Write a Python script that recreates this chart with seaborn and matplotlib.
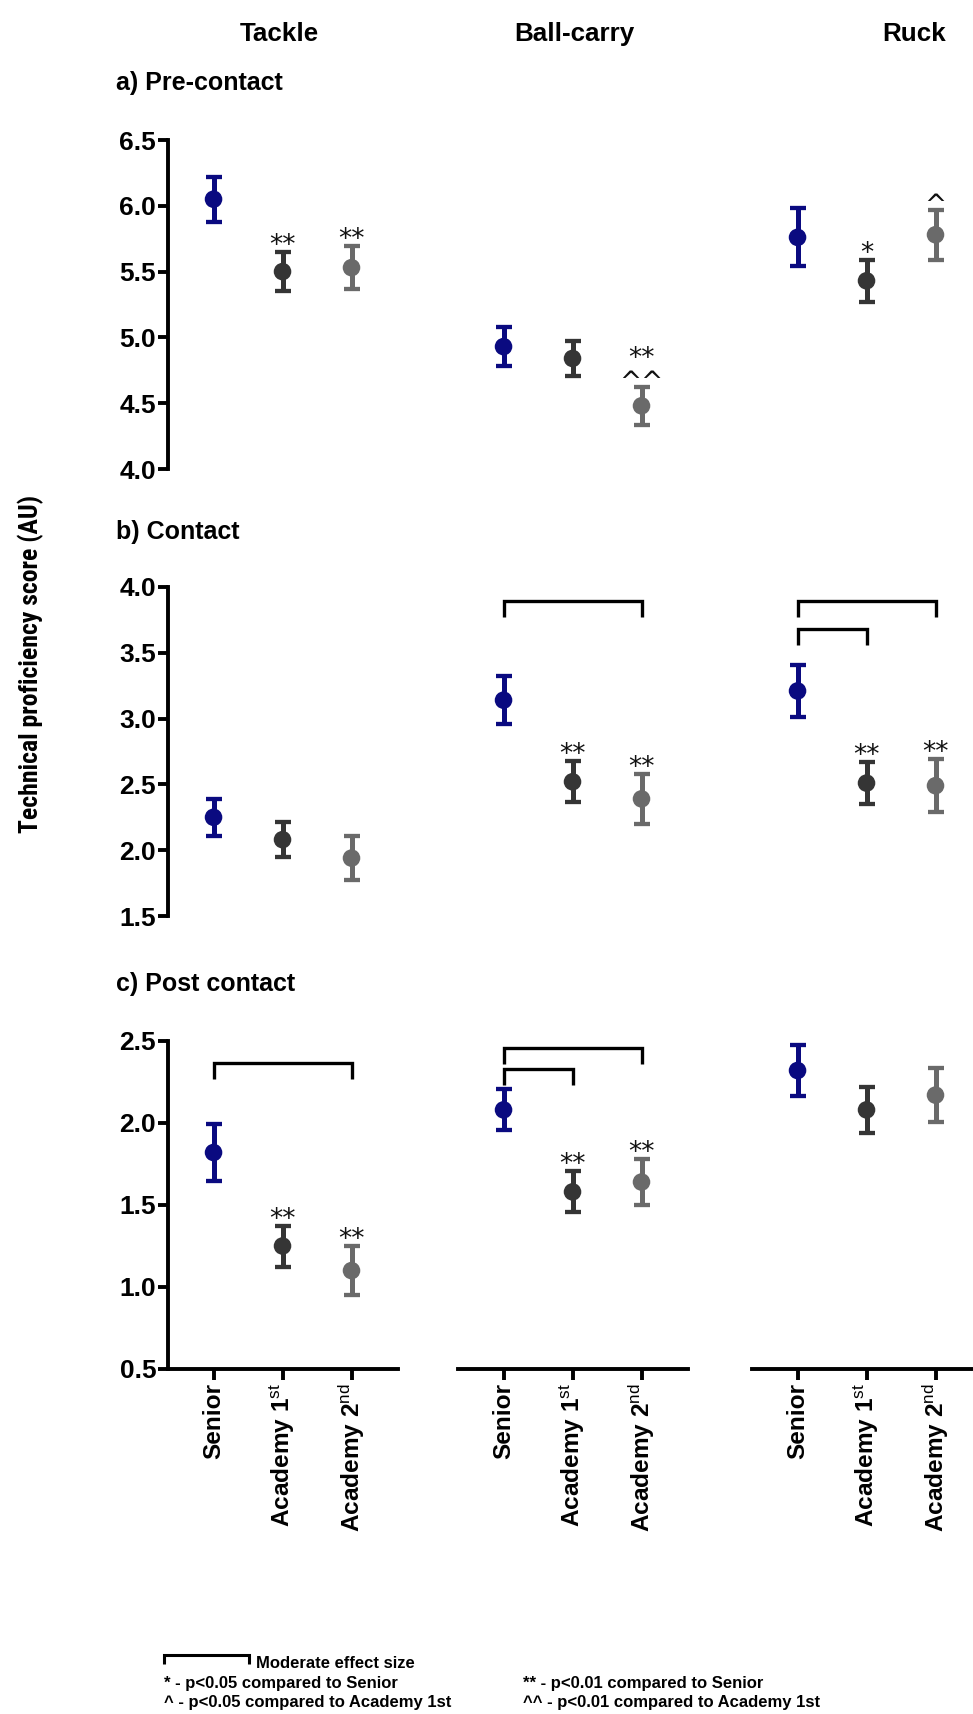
import matplotlib
matplotlib.use("Agg")
import numpy as np
import pandas as pd
import matplotlib.pyplot as plt
import seaborn as sns
from matplotlib import font_manager
from matplotlib.font_manager import FontProperties
from matplotlib.textpath import TextPath
from matplotlib.transforms import offset_copy
from matplotlib.lines import Line2D

# ---------------------------------------------------------------- data
groups = ["Senior", "Academy 1st", "Academy 2nd"]
group_ticklabels = ["Senior", r"Academy 1$^{\mathrm{st}}$", r"Academy 2$^{\mathrm{nd}}$"]
skills = ["Tackle", "Ball-carry", "Ruck"]
phases = ["a) Pre-contact", "b) Contact", "c) Post contact"]

# rows: Tackle, Ball-carry, Ruck ; columns: Senior, Academy 1st, Academy 2nd
pre_contact_mean = [[6.05, 5.50, 5.53], [4.93, 4.84, 4.48], [5.76, 5.43, 5.78]]
pre_contact_err = [[0.17, 0.15, 0.165], [0.15, 0.13, 0.145], [0.22, 0.16, 0.19]]
contact_mean = [[2.25, 2.08, 1.94], [3.14, 2.52, 2.39], [3.21, 2.51, 2.49]]
contact_err = [[0.14, 0.135, 0.165], [0.18, 0.155, 0.19], [0.195, 0.16, 0.20]]
post_contact_mean = [[1.82, 1.25, 1.10], [2.08, 1.58, 1.64], [2.32, 2.08, 2.17]]
post_contact_err = [[0.175, 0.125, 0.148], [0.125, 0.125, 0.14], [0.153, 0.14, 0.163]]

# significance markers (lines stacked from top to bottom)
pre_contact_sig = [["", "**", "**"], ["", "", "**\n^^"], ["", "*", "^"]]
contact_sig = [["", "", ""], ["", "**", "**"], ["", "**", "**"]]
post_contact_sig = [["", "**", "**"], ["", "**", "**"], ["", "", ""]]

# moderate effect size brackets: (phase, skill, from group, to group, bracket level)
moderate_effects = [
    (1, 1, 0, 2, 3.89),
    (1, 2, 0, 2, 3.89),
    (1, 2, 0, 1, 3.68),
    (2, 0, 0, 2, 2.368),
    (2, 1, 0, 2, 2.46),
    (2, 1, 0, 1, 2.327),
]

y_ranges = [(4.0, 6.5), (1.5, 4.0), (0.5, 2.5)]

key_lines_left = ["* - p<0.05 compared to Senior", "^ - p<0.05 compared to Academy 1st"]
key_lines_right = ["** - p<0.01 compared to Senior", "^^ - p<0.01 compared to Academy 1st"]

means = [pre_contact_mean, contact_mean, post_contact_mean]
errs = [pre_contact_err, contact_err, post_contact_err]
sigs = [pre_contact_sig, contact_sig, post_contact_sig]

records = []
for p, phase in enumerate(phases):
    for s, skill in enumerate(skills):
        for g, group in enumerate(groups):
            records.append(dict(phase=phase, skill=skill, group=group, pos=g,
                                mean=means[p][s][g], err=errs[p][s][g],
                                sig=sigs[p][s][g]))
df = pd.DataFrame(records)

# ---------------------------------------------------------------- style
sns.set_theme(style="ticks")
installed = {f.name for f in font_manager.fontManager.ttflist}
BASE = "Liberation Sans" if "Liberation Sans" in installed else "DejaVu Sans"
plt.rcParams["font.family"] = [BASE, "DejaVu Sans"]
plt.rcParams["mathtext.fontset"] = "custom"
plt.rcParams["mathtext.rm"] = BASE
plt.rcParams["mathtext.it"] = BASE + ":italic"
plt.rcParams["mathtext.bf"] = BASE + ":bold"


def find_condensed_bold():
    """Return a FontProperties for a bold narrow/condensed sans face, if any."""
    prefs = ["liberation sans narrow", "arial narrow", "roboto condensed",
             "dejavu sans condensed", "noto sans condensed", "open sans condensed"]
    found = []
    for f in font_manager.fontManager.ttflist:
        nm, fn = f.name.lower(), f.fname.lower()
        tag = nm + " " + fn
        if not any(k in tag for k in ("narrow", "condensed")):
            continue
        if "italic" in fn or "oblique" in fn or "mono" in tag:
            continue
        if "serif" in tag and "sans" not in tag:
            continue
        w = f.weight
        if isinstance(w, str):
            w = font_manager.weight_dict.get(w, 400)
        if w < 600 or w > 800:
            continue
        rank = len(prefs)
        for i, k in enumerate(prefs):
            if k in tag or k.replace(" ", "") in fn:
                rank = i
                break
        found.append((rank, f.fname))
    if not found:
        return None
    found.sort()
    return FontProperties(fname=found[0][1])


def text_width(txt, fp, size):
    q = fp.copy()
    q.set_size(size)
    ext = TextPath((0, 0), txt, prop=q).get_extents()
    return ext.x1 - ext.x0  # points


def fit_size(txt, fp, target_px):
    w1 = text_width(txt, fp, 10.0)
    return 10.0 * (target_px * 72.0 / 100.0) / w1


cond = find_condensed_bold()
bold_fp = FontProperties(family=BASE, weight="bold")
narrow_fp = cond if cond is not None else bold_fp

palette = {"Senior": "#0a0a80", "Academy 1st": "#353535", "Academy 2nd": "#6a6a6a"}

FW, FH = 973, 1714
DPI = 100
fig = plt.figure(figsize=(FW / DPI, FH / DPI), dpi=DPI)
fig.patch.set_facecolor("white")

col_left = [168, 458, 752]
col_w = 230
row_top = [140, 587, 1041]
row_h = [329, 329, 328]
x_lim = (-0.66, 2.674)

SPINE_W = 2.8
PX = 72.0 / DPI  # points per pixel

star_fp = FontProperties(family="DejaVu Sans", size=19)

xtick_size = fit_size("Senior", bold_fp, 75)
ylabel_size = fit_size("Technical proficiency score (AU)", narrow_fp, 336)


def glyph_center(txt, fp):
    ext = TextPath((0, 0), txt, prop=fp).get_extents()
    return (ext.y0 + ext.y1) / 2.0


for p in range(3):
    lo, hi = y_ranges[p]
    for s in range(3):
        rect = [col_left[s] / FW, 1 - (row_top[p] + row_h[p]) / FH,
                col_w / FW, row_h[p] / FH]
        ax = fig.add_axes(rect)
        ax.set_facecolor("none")
        sub = df[(df.phase == phases[p]) & (df.skill == skills[s])]

        for _, r in sub.iterrows():
            ax.errorbar(r["pos"], r["mean"], yerr=r["err"], fmt="none",
                        ecolor=palette[r["group"]], elinewidth=3.6,
                        capsize=6, capthick=3.1, zorder=2)
        sns.scatterplot(data=sub, x="pos", y="mean", hue="group",
                        palette=palette, s=160, linewidth=0, legend=False,
                        ax=ax, zorder=3)

        # significance symbols above the error bar caps
        for _, r in sub.iterrows():
            if not r["sig"]:
                continue
            lines = r["sig"].split("\n")
            top = r["mean"] + r["err"]
            dy = 12.5 * PX - glyph_center(lines[-1], star_fp)
            tr = offset_copy(ax.transData, fig=fig, x=0, y=dy, units="points")
            ax.text(r["pos"], top, r["sig"], transform=tr, ha="center",
                    va="baseline", multialignment="center", linespacing=0.9,
                    fontproperties=star_fp, color="#111111")

        ax.set_xlim(*x_lim)
        ax.set_ylim(lo, hi)
        ax.set_xlabel("")
        ax.set_ylabel("")
        for side in ["top", "right"]:
            ax.spines[side].set_visible(False)

        if s == 0:
            ax.spines["left"].set_linewidth(SPINE_W)
            ax.spines["left"].set_color("black")
            ax.spines["left"].set_bounds(lo, hi)
            yt = np.arange(lo, hi + 0.001, 0.5)
            ax.set_yticks(yt)
            ax.set_yticklabels([f"{v:.1f}" for v in yt], fontsize=19,
                               fontweight="bold")
            ax.tick_params(axis="y", length=7, width=SPINE_W, pad=1.5,
                           color="black", labelcolor="black")
        else:
            ax.spines["left"].set_visible(False)
            ax.set_yticks([])

        if p == 2:
            ax.spines["bottom"].set_linewidth(SPINE_W)
            ax.spines["bottom"].set_color("black")
            ax.set_xticks(range(len(groups)))
            ax.set_xticklabels(group_ticklabels, rotation=90,
                               fontsize=xtick_size, fontweight="bold")
            ax.tick_params(axis="x", length=8, width=SPINE_W, pad=2,
                           color="black", labelcolor="black")
        else:
            ax.spines["bottom"].set_visible(False)
            ax.set_xticks([])

        # moderate effect size brackets
        px_per_unit = row_h[p] / (hi - lo)
        leg = 16 / px_per_unit
        for (bp, bs, g0, g1, level) in moderate_effects:
            if bp == p and bs == s:
                ax.plot([g0, g0, g1, g1], [level - leg, level, level, level - leg],
                        color="black", lw=2.4, solid_joinstyle="miter",
                        solid_capstyle="butt", zorder=4, clip_on=False)

# ---------------------------------------------------------------- texts
title_x = [279, 574, 914]
for s, skill in enumerate(skills):
    fig.text(title_x[s] / FW, 1 - 41 / FH, skill, ha="center", va="baseline",
             fontsize=18.7, fontweight="bold", color="black")

label_base = [90, 539, 991]
for p, phase in enumerate(phases):
    fig.text(116 / FW, 1 - label_base[p] / FH, phase, ha="left", va="baseline",
             fontsize=18, fontweight="bold", color="black")

yl_fp = narrow_fp.copy()
yl_fp.set_size(ylabel_size)
fig.text(31 / FW, 1 - 664 / FH, "Technical proficiency score (AU)",
         rotation=90, ha="center", va="center", fontproperties=yl_fp,
         color="black")

# ---------------------------------------------------------------- key
fig.add_artist(Line2D(np.array([164, 164, 249, 249]) / FW,
                      1 - np.array([1664, 1655, 1655, 1664]) / FH,
                      transform=fig.transFigure, color="black", lw=2.2,
                      solid_joinstyle="miter", solid_capstyle="butt"))
key_font = dict(fontsize=12, fontweight="bold", color="black",
                ha="left", va="baseline")
fig.text(256 / FW, 1 - 1668 / FH, "Moderate effect size", **key_font)
for i, (left_txt, right_txt) in enumerate(zip(key_lines_left, key_lines_right)):
    base = 1688 + 19.5 * i
    fig.text(164 / FW, 1 - base / FH, left_txt, **key_font)
    fig.text(523 / FW, 1 - base / FH, right_txt, **key_font)

fig.savefig("out.png", dpi=DPI, facecolor="white")
